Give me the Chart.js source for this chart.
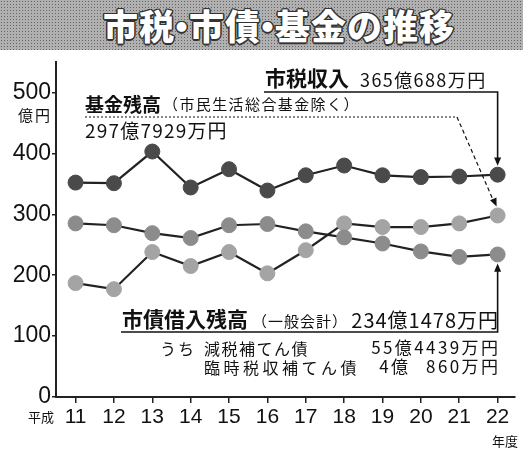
<!DOCTYPE html>
<html><head><meta charset="utf-8">
<script src="https://cdn.jsdelivr.net/npm/chart.js@4.4.1/dist/chart.umd.min.js"></script>
<style>
html,body{margin:0;padding:0;background:#fff;}
#wrap{position:relative;width:523px;height:450px;overflow:hidden;}
#banner{position:absolute;left:0;top:0;width:523px;height:50px;background-color:#b0b0b0;
 background-image:radial-gradient(circle,#666 0.75px,transparent 0.9px);background-size:3px 3px;z-index:2;}
#title{position:absolute;left:0;top:0;width:558px;height:50px;line-height:50px;text-align:center;
 font-family:"Noto Sans CJK JP";font-weight:900;font-size:35px;color:#fff;letter-spacing:1px;white-space:nowrap;
 text-shadow:1.5px 0 #333,-1.5px 0 #333,0 1.5px #333,0 -1.5px #333,1px 1px #333,-1px -1px #333,1px -1px #333,-1px 1px #333;}
#title span{display:inline-block;margin:0 -11px;}
canvas{position:absolute;left:0;top:0;}
</style></head>
<body><div id="wrap"><div id="banner"><div id="title">市税<span>・</span>市債<span>・</span>基金の推移</div></div><canvas id="c" width="523" height="450"></canvas></div>
<script>
const years = [11,12,13,14,15,16,17,18,19,20,21,22];
const yTicks = [0,100,200,300,400,500];
const shizei = [352,351,403,344,374,339,364,380,364,361,362,365];   // 市税収入
const shisai = [285,282,269,261,282,284,272,262,252,239,230,234];   // 市債借入残高
const kikin  = [187,177,238,215,238,203,241,285,279,279,285,298];   // 基金残高

const JP = "'Noto Sans CJK JP',sans-serif";

function pts(arr){ return years.map((y,i)=>({x:y,y:arr[i]})); }
function ds(label,arr,fill){
  return {label,data:pts(arr),borderColor:'#222',borderWidth:2.2,pointRadius:7.5,pointHoverRadius:7.5,
    pointBackgroundColor:fill,pointBorderColor:fill,pointBorderWidth:1,tension:0};
}

function arrow(ctx,x1,y1,x2,y2,size){
  const a=Math.atan2(y2-y1,x2-x1);
  ctx.beginPath();ctx.moveTo(x2,y2);
  ctx.lineTo(x2-size*Math.cos(a-0.4),y2-size*Math.sin(a-0.4));
  ctx.lineTo(x2-size*Math.cos(a+0.4),y2-size*Math.sin(a+0.4));
  ctx.closePath();ctx.fill();
}
function txt(ctx,s,x,y,font,ls,align){
  ctx.font=font; ctx.letterSpacing=(ls||0)+'px';
  if(align==='right'){ const w=ctx.measureText(s).width-(ls||0); ctx.textAlign='left'; ctx.fillText(s,x-w,y); }
  else { ctx.textAlign='left'; ctx.fillText(s,x,y); }
  ctx.letterSpacing='0px';
}

const annot = {
  id:'annot',
  afterDatasetsDraw(chart){
    const ctx=chart.ctx, xs=chart.scales.x, ys=chart.scales.y;
    const last=years.length-1;
    const px=xs.getPixelForValue(years[last]);
    ctx.save();
    ctx.fillStyle='#111';ctx.strokeStyle='#111';ctx.textBaseline='alphabetic';
    // 市税収入
    txt(ctx,'市税収入',265,86,"bold 21px "+JP,0);
    txt(ctx,'365億688万円',360,87,"18px "+JP,1.4);
    ctx.lineWidth=1.6;
    const ty=ys.getPixelForValue(shizei[last]);
    ctx.beginPath();ctx.moveTo(264,92);ctx.lineTo(px,92);ctx.lineTo(px,ty-12);ctx.stroke();
    arrow(ctx,px,92,px,ty-9,9);
    // 基金残高
    txt(ctx,'基金残高',85,112,"bold 19px "+JP,0);
    txt(ctx,'（市民生活総合基金除く）',163,110,"15px "+JP,1.4);
    txt(ctx,'297億7929万円',85,138,"19px "+JP,1.2);
    ctx.lineWidth=1.2; ctx.setLineDash([2,2]);
    ctx.beginPath();ctx.moveTo(85,117);ctx.lineTo(457,117);ctx.stroke();
    ctx.setLineDash([4,3]);
    const ky=ys.getPixelForValue(kikin[last]);
    ctx.beginPath();ctx.moveTo(457,117);ctx.lineTo(px-3,ky-12);ctx.stroke();
    ctx.setLineDash([]);
    arrow(ctx,457,117,px-1,ky-9,9);
    // 市債借入残高
    txt(ctx,'市債借入残高',122,327,"bold 21px "+JP,0);
    txt(ctx,'（一般会計）',252,327,"15px "+JP,1);
    txt(ctx,'234億1478万円',498,328,"20px "+JP,1,'right');
    ctx.lineWidth=1.6;
    const sy=ys.getPixelForValue(shisai[last]);
    ctx.beginPath();ctx.moveTo(121,332);ctx.lineTo(px,332);ctx.lineTo(px,sy+12);ctx.stroke();
    arrow(ctx,px,332,px,sy+9,9);
    txt(ctx,'うち',160,355,"16px "+JP,2);
    txt(ctx,'減税補てん債',204,355,"16px "+JP,1.5);
    txt(ctx,'臨時税収補てん債',204,374,"16px "+JP,3.5);
    txt(ctx,'55億4439万円',498,354,"17px "+JP,2.4,'right');
    txt(ctx,'4億',408,373,"17px "+JP,2.4,'right');
    txt(ctx,'860万円',498,373,"17px "+JP,2.4,'right');
    // axis extras
    txt(ctx,'平成',28,422,"13px "+JP,0);
    txt(ctx,'年度',492,446,"13px "+JP,0);
    txt(ctx,'億円',18,121,"15px "+JP,2);
    ctx.restore();
  }
};

new Chart(document.getElementById('c'),{
  type:'line',
  data:{datasets:[ds('市税収入',shizei,'#4a4a4a'),ds('市債借入残高',shisai,'#8c8c8c'),ds('基金残高',kikin,'#a4a4a4')]},
  options:{
    responsive:false,animation:false,
    layout:{padding:{top:62,left:0,right:0,bottom:0}},
    plugins:{legend:{display:false},tooltip:{enabled:false}},
    scales:{
      x:{type:'linear',min:10.49,max:22.44,
        afterBuildTicks:s=>{s.ticks=years.map(v=>({value:v}));},
        afterFit:s=>{s.height=53;},
        grid:{display:true,drawOnChartArea:false,drawTicks:true,tickLength:6,color:'#222',lineWidth:1.5},
        border:{display:true,color:'#222',width:2},
        ticks:{color:'#111',font:{family:"'Liberation Sans',sans-serif",size:21},padding:2,maxRotation:0,autoSkip:false,callback:v=>String(v)}},
      y:{min:0,max:550,
        afterBuildTicks:s=>{s.ticks=yTicks.map(v=>({value:v}));},
        afterFit:s=>{s.width=56;},
        grid:{display:true,drawOnChartArea:false,drawTicks:true,tickLength:4,color:'#222',lineWidth:1.5},
        border:{display:true,color:'#222',width:2},
        ticks:{color:'#111',font:{family:"'Liberation Sans',sans-serif",size:23},padding:1,callback:v=>String(v)}}
    }
  },
  plugins:[annot]
});
</script></body></html>
